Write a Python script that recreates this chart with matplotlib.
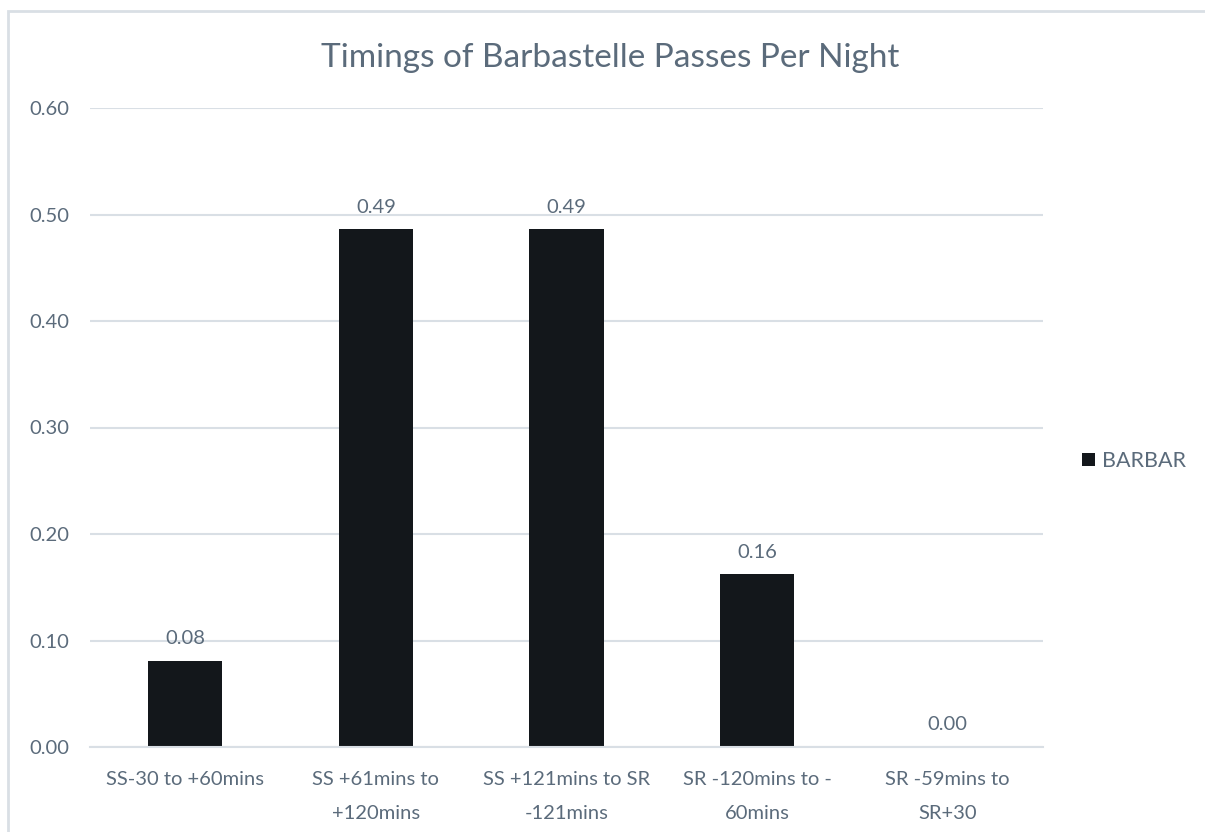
import matplotlib.pyplot as plt
from matplotlib.patches import Rectangle

categories = [
    "SS-30 to +60mins",
    "SS +61mins to\n+120mins",
    "SS +121mins to SR\n-121mins",
    "SR -120mins to -\n60mins",
    "SR -59mins to\nSR+30",
]
barbar = [0.081, 0.486, 0.486, 0.162, 0.0]
y_ticks = [0.0, 0.1, 0.2, 0.3, 0.4, 0.5, 0.6]

text_color = "#5b6b7b"
grid_color = "#d9dfe5"
bar_color = "#13171b"

plt.rcParams["font.family"] = ["Lato", "DejaVu Sans"]

fig = plt.figure(figsize=(12.05, 8.32), dpi=100)
ax = fig.add_axes([90 / 1205, 85 / 832, (1043 - 90) / 1205, (747 - 108) / 832])

x = list(range(len(categories)))
bars = ax.bar(x, barbar, width=0.39, color=bar_color, zorder=3, label="BARBAR")

for rect, v in zip(bars, barbar):
    ax.text(rect.get_x() + rect.get_width() / 2, v + 0.013, f"{v:.2f}",
            ha="center", va="bottom", fontsize=14.5, color=text_color)

ax.set_xlim(-0.5, len(categories) - 0.5)
ax.set_ylim(0, 0.6)
ax.set_yticks(y_ticks)
ax.set_yticklabels([f"{t:.2f}" for t in y_ticks])
ax.set_xticks(x)
ax.set_xticklabels(categories, linespacing=2.25)
ax.tick_params(axis="both", length=0, labelsize=14.5, labelcolor=text_color)
ax.tick_params(axis="y", pad=15)
ax.tick_params(axis="x", pad=17)

ax.grid(axis="y", color=grid_color, linewidth=1.5, zorder=0)
ax.set_axisbelow(True)
for side in ["top", "right", "left"]:
    ax.spines[side].set_visible(False)
ax.spines["bottom"].set_color(grid_color)
ax.spines["bottom"].set_linewidth(1.5)
ax.spines["bottom"].set_zorder(4)

fig.text(610 / 1205, 1 - 58 / 832, "Timings of Barbastelle Passes Per Night",
         ha="center", va="center", fontsize=24, color=text_color)

fig.legend(loc="center left", bbox_to_anchor=(1063 / 1205, 1 - 461 / 832),
           frameon=False, fontsize=15.5, labelcolor=text_color,
           handlelength=0.6, handleheight=0.6, handletextpad=0.3)

# light chart-area frame
fig.patches.append(Rectangle((8 / 1205, -0.1), 1.2, 1 - 11 / 832 + 0.1,
                             transform=fig.transFigure, fill=False,
                             edgecolor=grid_color, linewidth=2))

fig.savefig("out.png", dpi=100, facecolor="white")
